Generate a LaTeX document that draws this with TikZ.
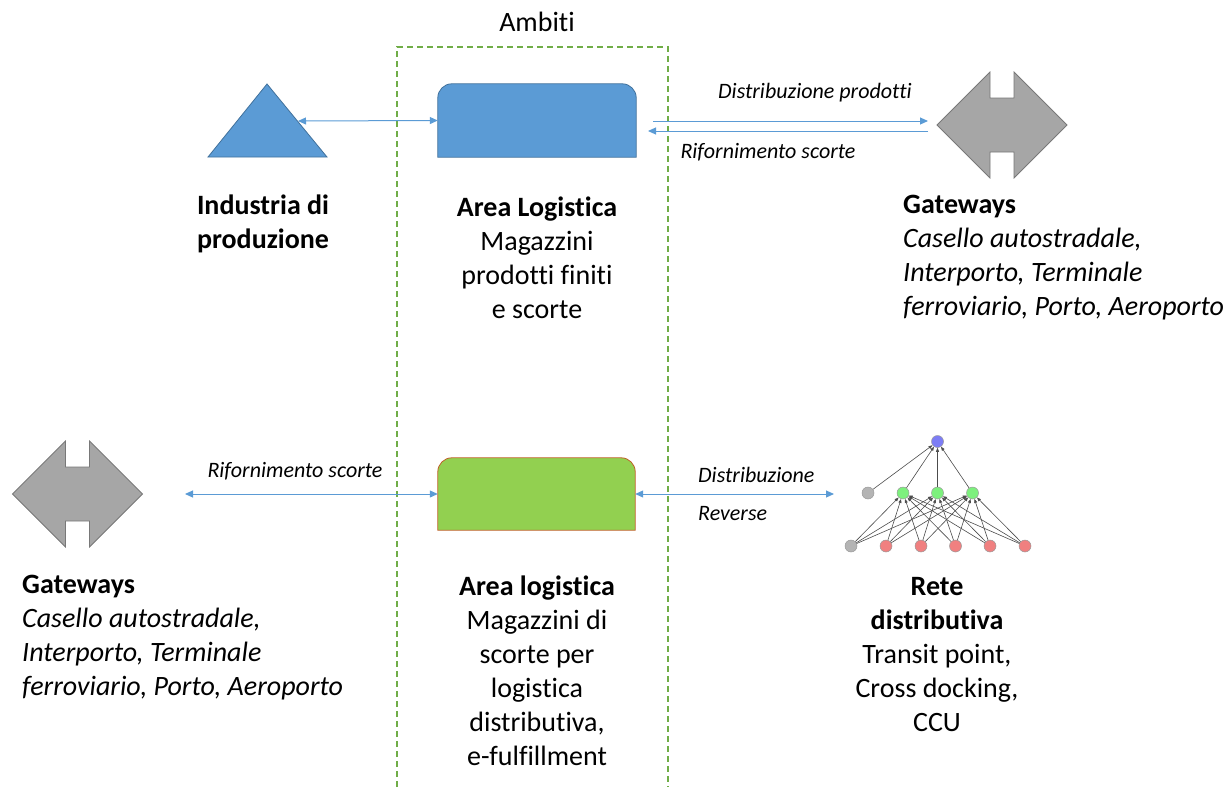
\documentclass[tikz,border=0pt]{standalone}
\usepackage{fontspec}
\setmainfont{Carlito}[Ligatures=CommonOff]
\usepackage{tikz}
\usetikzlibrary{arrows.meta}

\definecolor{shapeblue}{RGB}{91,155,213}
\definecolor{shapeblueline}{RGB}{65,113,156}
\definecolor{shapegreen}{RGB}{146,208,80}
\definecolor{shapegreenline}{RGB}{190,95,40}
\definecolor{gategray}{RGB}{166,166,166}
\definecolor{gateline}{RGB}{120,120,120}
\definecolor{ambitigreen}{RGB}{112,173,71}
\definecolor{netblue}{RGB}{125,125,245}
\definecolor{netgreen}{RGB}{125,240,125}
\definecolor{netred}{RGB}{240,128,128}
\definecolor{netgray}{RGB}{180,180,180}

% gateway: double arrow with a notch on top and bottom
\newcommand{\gateway}[1]{\draw[gate, shift={(#1)}] (-65,0) -- (-12,-53) -- (-12,-27) -- (12,-27) -- (12,-53) -- (65,0) -- (12,53) -- (12,27) -- (-12,27) -- (-12,53) -- cycle;}
% box with rounded top corners
\newcommand{\roundtop}[1]{(#1.south west) -- ([yshift=-14pt]#1.north west) arc[start angle=180, end angle=90, radius=14pt] -- ([xshift=-14pt]#1.north east) arc[start angle=90, end angle=0, radius=14pt] -- (#1.south east) -- cycle}

\begin{document}
\begin{tikzpicture}[x=1pt, y=-1pt, >={Triangle[length=8pt,width=7pt]}, flow/.style={shapeblue, line width=1pt}]
		\tikzstyle{panel}=[minimum width=198pt, minimum height=73pt, inner sep=0pt]
		\tikzstyle{gate}=[fill=gategray, draw=gateline, line width=0.8pt]
		\tikzstyle{desc}=[align=center, inner sep=0pt, font=\fontsize{28}{34}\selectfont]
		\tikzstyle{flowtxt}=[inner sep=0pt, font=\fontsize{22}{26}\selectfont\itshape]
		\tikzstyle{net}=[circle, minimum size=12pt, inner sep=0pt, draw=black!40, line width=0.5pt]
		\tikzstyle{netedge}=[-{Triangle[length=4pt,width=3pt]}, black!70, line width=0.6pt]
		\useasboundingbox (0,0) rectangle (1231,787);

		% Ambiti
		\draw[ambitigreen, line width=1.2pt, dash pattern=on 6pt off 4pt] (397,787) -- (397,47) -- (668,47) -- (668,787);
		\node[font=\fontsize{28}{34}\selectfont] (ambiti) at (537,22) {Ambiti};

		% Draw shapes
		\draw[fill=shapeblue, draw=shapeblueline, line width=0.8pt] (208,157) -- (267,84) -- (327,157) -- cycle;
		\coordinate (indOut) at (298,121);
		\node[panel] (logA) at (537,120.5) {};
		\draw[fill=shapeblue, draw=shapeblueline, line width=0.8pt] \roundtop{logA};
		\node[panel, minimum width=197pt, minimum height=72pt] (logB) at (536.5,494) {};
		\draw[fill=shapegreen, draw=shapegreenline, line width=0.8pt] \roundtop{logB};
		\gateway{1002,125}
		\gateway{77.5,494}

		% Draw network
		\node[net, fill=netblue] (netOut) at (937.5,441.5) {};
		\node[net, fill=netgray] (netBias1) at (868,493) {};
		\node[net, fill=netgreen] (netH1) at (903,493) {};
		\node[net, fill=netgreen] (netH2) at (937.5,493) {};
		\node[net, fill=netgreen] (netH3) at (972.5,493) {};
		\node[net, fill=netgray] (netBias0) at (851,546) {};
		\node[net, fill=netred] (netX1) at (886,546) {};
		\node[net, fill=netred] (netX2) at (921,546) {};
		\node[net, fill=netred] (netX3) at (955.5,546) {};
		\node[net, fill=netred] (netX4) at (990,546) {};
		\node[net, fill=netred] (netX5) at (1025,546) {};
		\foreach \i in {netBias0,netX1,netX2,netX3,netX4,netX5}
			\foreach \j in {netH1,netH2,netH3}
				\path[netedge] (\i) edge (\j);
		\foreach \j in {netBias1,netH1,netH2,netH3}
			\path[netedge] (\j) edge (netOut);

		% Draw arrows
		\coordinate (logAout) at (653,121);
		\coordinate (gwAin) at (928,121);
		\coordinate (gwAout) at (928,131);
		\coordinate (logAin) at (648,131);
		\coordinate (gwBout) at (185,494);
		\coordinate (reteIn) at (834,494);
		\path[flow, <->] (indOut) edge (logA.west);
		\path[flow, ->] (logAout) edge (gwAin);
		\path[flow, ->] (gwAout) edge (logAin);
		\path[flow, <->] (gwBout) edge (logB.west);
		\path[flow, <->] (logB.east) edge (reteIn);

		\node[flowtxt] (distP) at (815,93) {Distribuzione prodotti};
		\node[flowtxt] (rifA) at (768,152) {Rifornimento scorte};
		\node[flowtxt] (rifB) at (295,471) {Rifornimento scorte};
		\node[flowtxt, anchor=west] (distR) at (698,475) {Distribuzione};
		\node[flowtxt, anchor=west] (rev) at (698,514) {Reverse};

		% Draw captions
		\node[desc] (indTxt) at (263,224) {\textbf{Industria di}\\\textbf{produzione}};
		\node[desc] (logATxt) at (537,258) {\textbf{Area Logistica}\\Magazzini\\prodotti finiti\\e scorte};
		\node[desc, align=left, anchor=west] (gwATxt) at (903,258) {\textbf{Gateways}\\\textit{Casello autostradale,}\\\textit{Interporto, Terminale}\\\textit{ferroviario, Porto, Aeroporto}};
		\node[desc, align=left, anchor=west] (gwBTxt) at (22,638) {\textbf{Gateways}\\\textit{Casello autostradale,}\\\textit{Interporto, Terminale}\\\textit{ferroviario, Porto, Aeroporto}};
		\node[desc] (logBTxt) at (537,671) {\textbf{Area logistica}\\Magazzini di\\scorte per\\logistica\\distributiva,\\e-fulfillment};
		\node[desc] (reteTxt) at (937,655) {\textbf{Rete}\\\textbf{distributiva}\\Transit point,\\Cross docking,\\CCU};

		\end{tikzpicture}
\end{document}
